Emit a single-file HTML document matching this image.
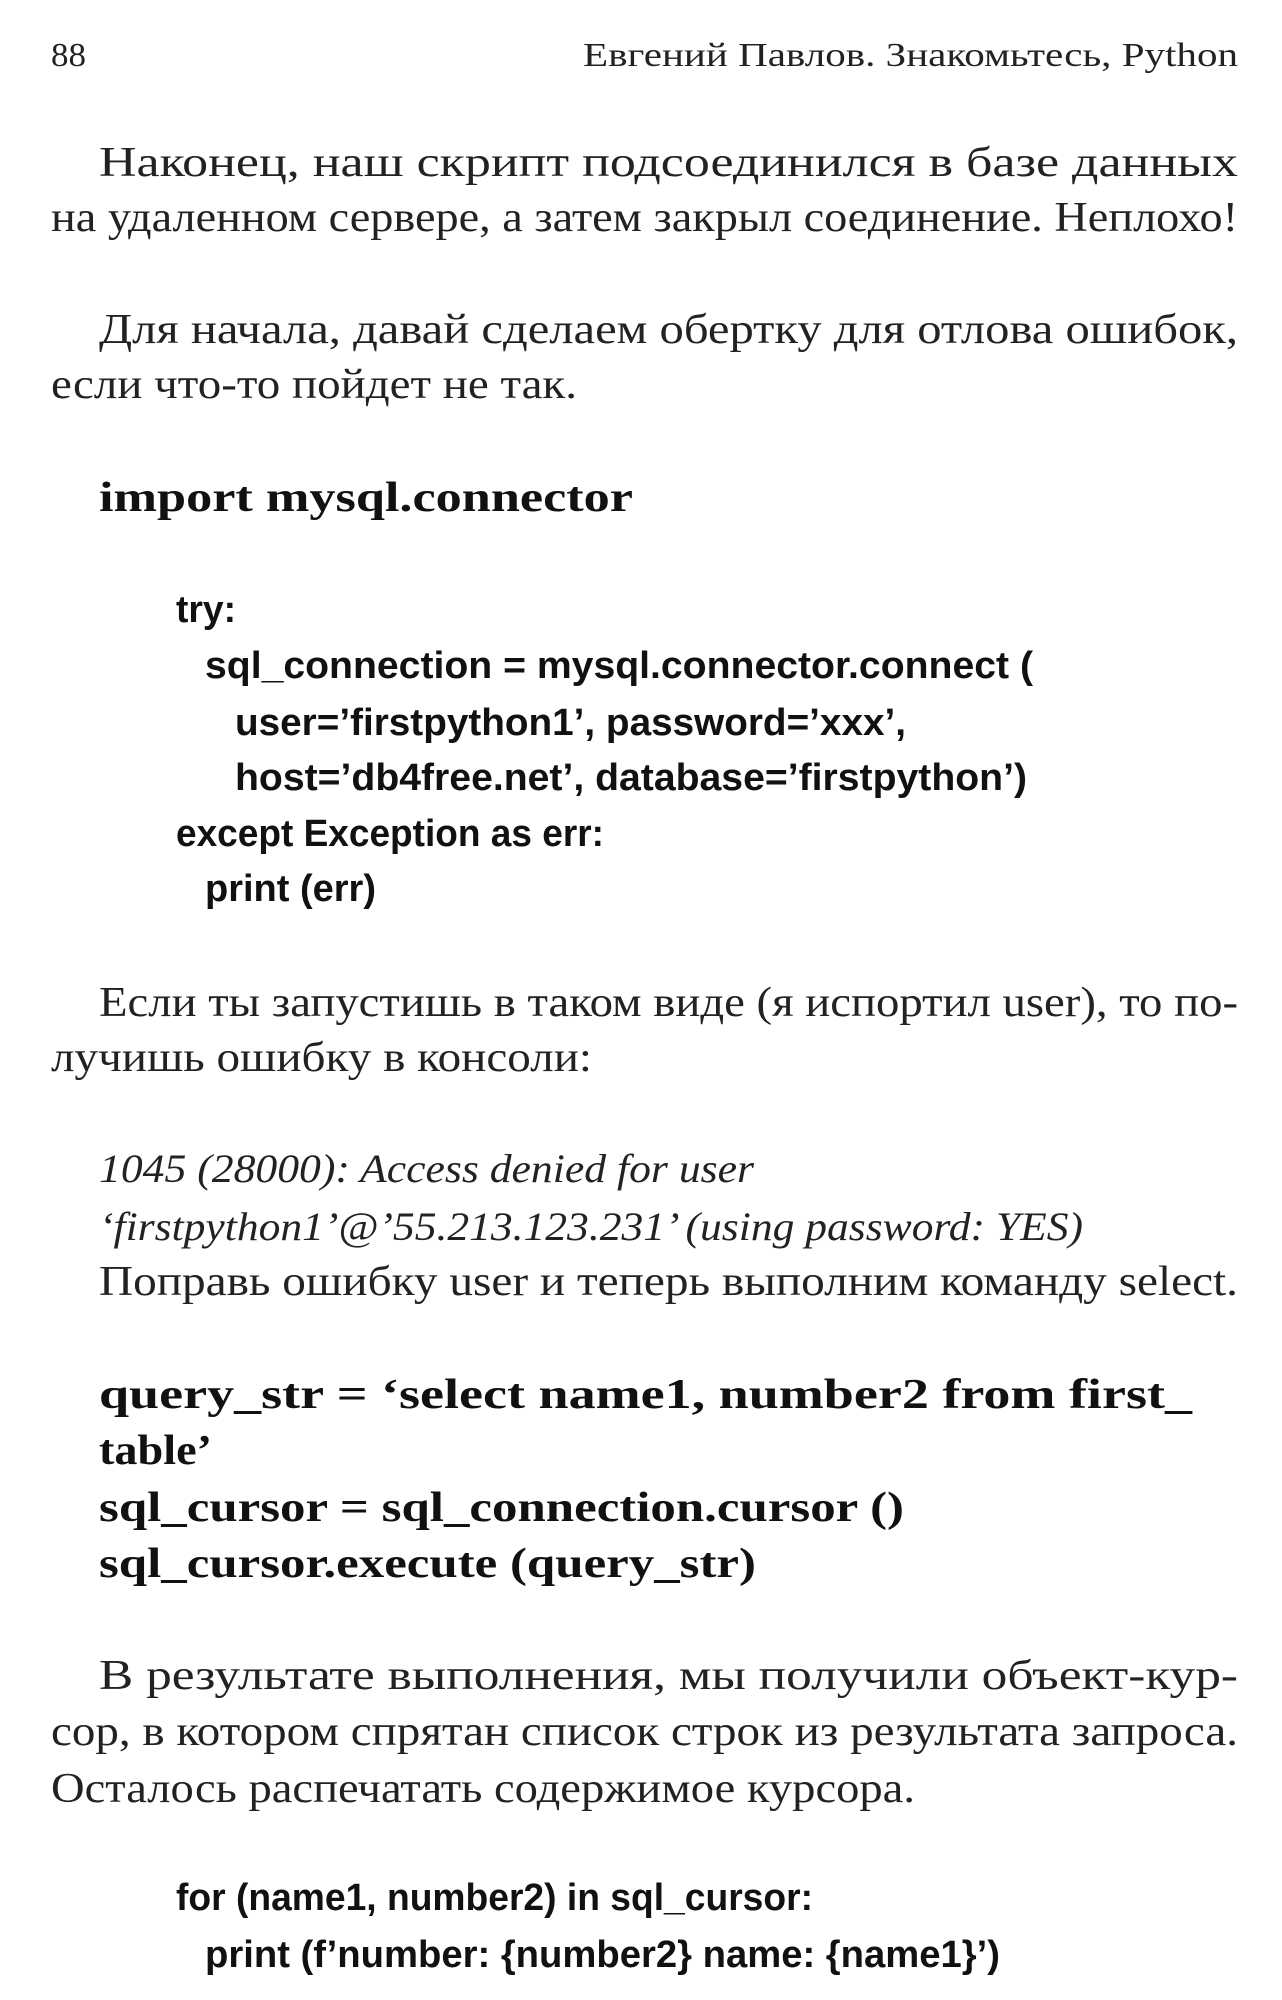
<!DOCTYPE html>
<html><head><meta charset="utf-8"><style>
html,body{margin:0;padding:0;background:#fff}
svg{display:block}
.s{font-family:"Liberation Serif",serif;font-size:42px;fill:#222}
.h{font-family:"Liberation Serif",serif;font-size:34px;fill:#222}
.b{font-family:"Liberation Serif",serif;font-size:42px;font-weight:bold;fill:#111}
.i{font-family:"Liberation Serif",serif;font-size:40px;font-style:italic;fill:#222}
.c{font-family:"Liberation Sans Narrow","Liberation Sans",sans-serif;font-size:38px;font-weight:bold;fill:#111}
</style></head><body>
<svg width="1282" height="2000" xmlns="http://www.w3.org/2000/svg">
<text class="h" x="51" y="66" textLength="35" lengthAdjust="spacingAndGlyphs">88</text>
<text class="h" x="583" y="66" textLength="655" lengthAdjust="spacingAndGlyphs">Евгений Павлов. Знакомьтесь, Python</text>

<text class="s" x="99" y="176" textLength="1139" lengthAdjust="spacingAndGlyphs">Наконец,   наш   скрипт   подсоединился   в   базе   данных</text>
<text class="s" x="51" y="231" textLength="1187" lengthAdjust="spacingAndGlyphs">на удаленном сервере, а затем закрыл соединение. Неплохо!</text>
<text class="s" x="99" y="343" textLength="1139" lengthAdjust="spacingAndGlyphs">Для  начала,  давай  сделаем  обертку  для  отлова  ошибок,</text>
<text class="s" x="51" y="398" textLength="526" lengthAdjust="spacingAndGlyphs">если что-то пойдет не так.</text>

<text class="b" x="99" y="511" textLength="534" lengthAdjust="spacingAndGlyphs">import mysql.connector</text>

<text class="c" x="176" y="622" textLength="60" lengthAdjust="spacingAndGlyphs">try:</text>
<text class="c" x="205" y="678" textLength="828" lengthAdjust="spacingAndGlyphs">sql_connection = mysql.connector.connect (</text>
<text class="c" x="235" y="735" textLength="671" lengthAdjust="spacingAndGlyphs">user=’firstpython1’, password=’xxx’,</text>
<text class="c" x="235" y="790" textLength="792" lengthAdjust="spacingAndGlyphs">host=’db4free.net’, database=’firstpython’)</text>
<text class="c" x="176" y="846" textLength="428" lengthAdjust="spacingAndGlyphs">except Exception as err:</text>
<text class="c" x="205" y="901" textLength="171" lengthAdjust="spacingAndGlyphs">print (err)</text>

<text class="s" x="99" y="1016" textLength="1139" lengthAdjust="spacingAndGlyphs">Если ты запустишь в таком виде (я испортил user), то по-</text>
<text class="s" x="51" y="1071" textLength="541" lengthAdjust="spacingAndGlyphs">лучишь ошибку в консоли:</text>

<text class="i" x="99" y="1182" textLength="655" lengthAdjust="spacingAndGlyphs">1045 (28000): Access denied for user</text>
<text class="i" x="99" y="1240" textLength="984" lengthAdjust="spacingAndGlyphs">‘firstpython1’@’55.213.123.231’ (using password: YES)</text>
<text class="s" x="99" y="1295" textLength="1139" lengthAdjust="spacingAndGlyphs">Поправь ошибку user и теперь выполним команду select.</text>

<text class="b" x="99" y="1408" textLength="1093" lengthAdjust="spacingAndGlyphs">query_str  =  ‘select  name1,  number2  from  first_</text>
<text class="b" x="99" y="1464" textLength="113" lengthAdjust="spacingAndGlyphs">table’</text>
<text class="b" x="99" y="1521" textLength="805" lengthAdjust="spacingAndGlyphs">sql_cursor = sql_connection.cursor ()</text>
<text class="b" x="99" y="1577" textLength="657" lengthAdjust="spacingAndGlyphs">sql_cursor.execute (query_str)</text>

<text class="s" x="99" y="1689" textLength="1139" lengthAdjust="spacingAndGlyphs">В   результате   выполнения,   мы   получили   объект-кур-</text>
<text class="s" x="51" y="1745" textLength="1187" lengthAdjust="spacingAndGlyphs">сор, в котором спрятан список строк из результата запроса.</text>
<text class="s" x="51" y="1802" textLength="864" lengthAdjust="spacingAndGlyphs">Осталось распечатать содержимое курсора.</text>

<text class="c" x="176" y="1910" textLength="637" lengthAdjust="spacingAndGlyphs">for (name1, number2) in sql_cursor:</text>
<text class="c" x="205" y="1967" textLength="795" lengthAdjust="spacingAndGlyphs">print (f’number: {number2} name: {name1}’)</text>
</svg>
</body></html>
